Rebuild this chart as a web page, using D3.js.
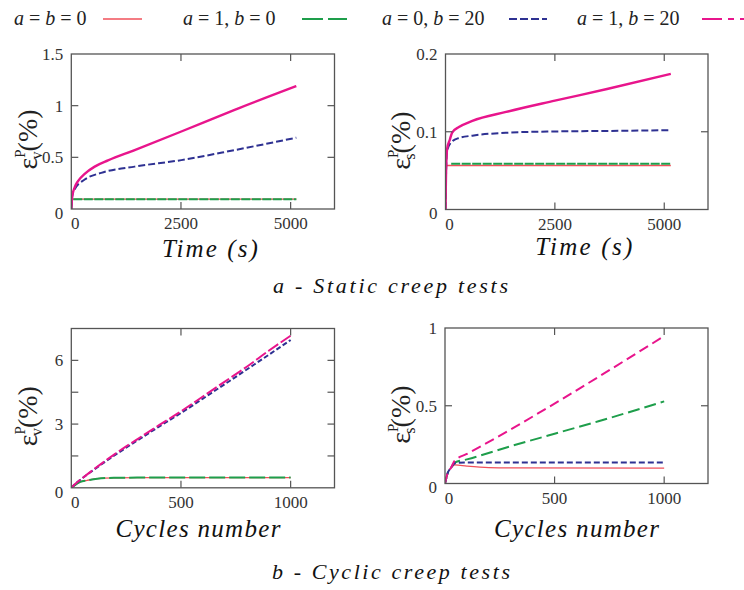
<!DOCTYPE html>
<html>
<head>
<meta charset="utf-8">
<script src="https://cdn.jsdelivr.net/npm/d3@7"></script>
<style>
    body { margin: 0; background: #fff; }
    svg { display: block; }
</style>
</head>
<body>
<svg id="chart"></svg>
<script>
// series names / colours
var seriesNames = [["a", " = ", "b", " = 0"], ["a", " = 1, ", "b", " = 0"], ["a", " = 0, ", "b", " = 20"], ["a", " = 1, ", "b", " = 20"]];
var seriesColors = ["#f0505a", "#1e9e4b", "#2e3192", "#e8158c"];

// a - static creep, volumetric strain (%) vs time (s)
var sv_red_t = [0, 15, 40, 5130];
var sv_red_v = [0, 0.08, 0.095, 0.095];
var sv_green_t = [0, 15, 40, 5130];
var sv_green_v = [0, 0.08, 0.095, 0.095];
var sv_blue_t = [0, 20, 77, 305, 684, 1445, 2508, 3723, 5130];
var sv_blue_v = [0, 0.12, 0.19, 0.285, 0.35, 0.41, 0.473, 0.57, 0.69];
var sv_mag_t = [0, 20, 77, 153, 305, 533, 837, 1445, 2508, 3723, 5130];
var sv_mag_v = [0, 0.12, 0.21, 0.27, 0.34, 0.41, 0.47, 0.57, 0.75, 0.96, 1.19];

// a - static creep, deviatoric strain (%) vs time (s)
var ss_red_t = [0, 10, 25, 5150];
var ss_red_v = [0, 0.04, 0.0566, 0.0566];
var ss_green_t = [130, 5150];
var ss_green_v = [0.0587, 0.0587];
var ss_blue_t = [0, 10, 37, 152, 307, 614, 1385, 2500, 3692, 5150];
var ss_blue_v = [0, 0.04, 0.076, 0.0875, 0.092, 0.095, 0.0987, 0.1004, 0.101, 0.102];
var ss_mag_t = [0, 10, 37, 100, 152, 307, 614, 1385, 2500, 3692, 5150];
var ss_mag_v = [0, 0.04, 0.078, 0.09, 0.099, 0.106, 0.114, 0.1255, 0.14, 0.155, 0.1745];

// b - cyclic creep, volumetric strain (%) vs cycles
var cv_red_n = [0, 20, 41, 72, 118, 194, 300, 1000];
var cv_red_v = [0, 0.15, 0.28, 0.35, 0.43, 0.47, 0.48, 0.48];
var cv_green_n = [0, 20, 41, 72, 118, 194, 300, 1000];
var cv_green_v = [0, 0.15, 0.28, 0.35, 0.43, 0.47, 0.48, 0.48];
var cv_blue_n = [0, 20, 50, 100, 200, 300, 400, 500, 600, 700, 800, 900, 1000];
var cv_blue_v = [0, 0.2, 0.45, 0.83, 1.55, 2.22, 2.88, 3.52, 4.2, 4.88, 5.57, 6.26, 6.96];
var cv_mag_n = [0, 20, 50, 100, 200, 300, 400, 500, 600, 700, 800, 900, 1000];
var cv_mag_v = [0, 0.2, 0.45, 0.85, 1.6, 2.28, 2.95, 3.6, 4.3, 5.0, 5.7, 6.45, 7.16];

// b - cyclic creep, deviatoric strain (%) vs cycles
var cs_red_n = [0, 13, 27, 45, 100, 200, 300, 1000];
var cs_red_v = [0, 0.07, 0.1, 0.12, 0.112, 0.102, 0.1, 0.099];
var cs_green_n = [0, 13, 27, 45, 100, 300, 500, 700, 1000];
var cs_green_v = [0, 0.07, 0.1, 0.135, 0.155, 0.24, 0.32, 0.4, 0.528];
var cs_blue_n = [0, 13, 27, 45, 100, 1000];
var cs_blue_v = [0, 0.07, 0.1, 0.13, 0.135, 0.135];
var cs_mag_n = [0, 13, 27, 45, 100, 1000];
var cs_mag_v = [0, 0.07, 0.1, 0.148, 0.19, 0.948];

// ticks
var staticXTicks = [0, 2500, 5000];
var cyclicXTicks = [0, 500, 1000];
var svYTicks = [0, 0.5, 1, 1.5];
var ssYTicks = [0, 0.1, 0.2];
var cvYTicks = [0, 1.5, 3, 4.5, 6];
var cvYLabels = [0, 3, 6];
var csYTicks = [0, 0.5, 1];

var serif = "'Liberation Serif', 'DejaVu Serif', 'Times New Roman', serif";

function zip(xs, ys) {
    return xs.map(function (x, i) { return [x, ys[i]]; });
}

var panels = [
    {
        left: 71.3, right: 334.5, top: 54, bottom: 209,
        xDomain: [0, 6000], yDomain: [0, 1.5],
        xTicks: staticXTicks, yTicks: svYTicks, yLabels: svYTicks,
        sub: "v", title: "Time (s)", titleDx: 7, titleY: 257, titleLen: 96, labelX: 37,
        series: [zip(sv_red_t, sv_red_v), zip(sv_green_t, sv_green_v), zip(sv_blue_t, sv_blue_v), zip(sv_mag_t, sv_mag_v)],
        dashes: [null, "9,1.5", "7,3", null]
    },
    {
        left: 445.5, right: 708, top: 54, bottom: 209.5,
        xDomain: [0, 6000], yDomain: [0, 0.2],
        xTicks: staticXTicks, yTicks: ssYTicks, yLabels: ssYTicks,
        sub: "s", title: "Time (s)", titleDx: 7, titleY: 255, titleLen: 97, labelX: 410,
        series: [zip(ss_red_t, ss_red_v), zip(ss_green_t, ss_green_v), zip(ss_blue_t, ss_blue_v), zip(ss_mag_t, ss_mag_v)],
        dashes: [null, "9,1.5", "7,3", null]
    },
    {
        left: 71.3, right: 334.5, top: 328.5, bottom: 487.8,
        xDomain: [0, 1200], yDomain: [0, 7.5],
        xTicks: cyclicXTicks, yTicks: cvYTicks, yLabels: cvYLabels,
        sub: "v", title: "Cycles number", titleDx: -5, titleY: 537, titleLen: 165, labelX: 37,
        series: [zip(cv_red_n, cv_red_v), zip(cv_green_n, cv_green_v), zip(cv_blue_n, cv_blue_v), zip(cv_mag_n, cv_mag_v)],
        dashes: [null, "16,4", "5,2.5", "12,3"]
    },
    {
        left: 445, right: 708, top: 328, bottom: 483.5,
        xDomain: [0, 1200], yDomain: [0, 1],
        xTicks: cyclicXTicks, yTicks: csYTicks, yLabels: csYTicks,
        sub: "s", title: "Cycles number", titleDx: 0, titleY: 537, titleLen: 165, labelX: 410,
        series: [zip(cs_red_n, cs_red_v), zip(cs_green_n, cs_green_v), zip(cs_blue_n, cs_blue_v), zip(cs_mag_n, cs_mag_v)],
        dashes: [null, "12,5", "6,3", "10,5"]
    }
];

var width = 744;
var height = 590;

var svg = d3.select("#chart")
    .attr("width", width)
    .attr("height", height)
    .style("font-family", serif);

// legend
var legendText = [14, 183, 382, 577];
var legendLine = [[103, 142], [302, 347], [509, 547], [702, 744]];
var legendDash = [null, "21,5", "8,3", "20,6,6,6"];

seriesNames.forEach(function (parts, i) {
    var t = svg.append("text")
        .attr("x", legendText[i])
        .attr("y", 25)
        .style("font-family", serif)
        .attr("font-size", 20)
        .attr("fill", "#222");
    parts.forEach(function (p, k) {
        t.append("tspan")
            .attr("font-style", k % 2 === 0 ? "italic" : "normal")
            .style("white-space", "pre")
            .text(p);
    });
    svg.append("line")
        .attr("x1", legendLine[i][0])
        .attr("x2", legendLine[i][1])
        .attr("y1", 19)
        .attr("y2", 19)
        .attr("stroke", seriesColors[i])
        .attr("stroke-width", i === 0 ? 1.5 : 2)
        .attr("stroke-dasharray", legendDash[i]);
});

panels.forEach(function (p) {
    var x = d3.scaleLinear().domain(p.xDomain).range([p.left, p.right]);
    var y = d3.scaleLinear().domain(p.yDomain).range([p.bottom, p.top]);
    var g = svg.append("g");

    var clipId = "clip" + Math.round(p.left) + Math.round(p.top);
    g.append("clipPath").attr("id", clipId)
        .append("rect")
        .attr("x", p.left).attr("y", p.top - 2)
        .attr("width", p.right - p.left).attr("height", p.bottom - p.top + 2);

    var line = d3.line()
        .x(function (d) { return x(d[0]); })
        .y(function (d) { return y(d[1]); })
        .curve(d3.curveMonotoneX);

    p.series.forEach(function (s, i) {
        g.append("path")
            .datum(s)
            .attr("clip-path", "url(#" + clipId + ")")
            .attr("d", line)
            .attr("fill", "none")
            .attr("stroke", seriesColors[i])
            .attr("stroke-width", i === 0 ? 1.3 : (i === 3 && !p.dashes[i] ? 2.4 : 2))
            .attr("stroke-dasharray", p.dashes[i]);
    });

    // inward ticks on all four sides
    var xt = p.xTicks.filter(function (v) { return v > p.xDomain[0]; });
    var yt = p.yTicks.filter(function (v) { return v > p.yDomain[0] && v < p.yDomain[1]; });
    var tickColor = "#555";

    xt.forEach(function (v) {
        g.append("line").attr("x1", x(v)).attr("x2", x(v))
            .attr("y1", p.bottom).attr("y2", p.bottom - 7)
            .attr("stroke", tickColor).attr("stroke-width", 1.2);
        g.append("line").attr("x1", x(v)).attr("x2", x(v))
            .attr("y1", p.top).attr("y2", p.top + 7)
            .attr("stroke", tickColor).attr("stroke-width", 1.2);
    });
    yt.forEach(function (v) {
        g.append("line").attr("x1", p.left).attr("x2", p.left + 7)
            .attr("y1", y(v)).attr("y2", y(v))
            .attr("stroke", tickColor).attr("stroke-width", 1.2);
        g.append("line").attr("x1", p.right).attr("x2", p.right - 7)
            .attr("y1", y(v)).attr("y2", y(v))
            .attr("stroke", tickColor).attr("stroke-width", 1.2);
    });

    g.append("rect")
        .attr("x", p.left).attr("y", p.top)
        .attr("width", p.right - p.left).attr("height", p.bottom - p.top)
        .attr("fill", "none")
        .attr("stroke", tickColor)
        .attr("stroke-width", 1.3);

    // tick labels
    p.xTicks.forEach(function (v) {
        g.append("text")
            .attr("x", x(v) + (v === 0 ? 4 : 0))
            .attr("y", p.bottom + 20)
            .attr("text-anchor", "middle")
            .style("font-family", serif)
            .attr("font-size", 17)
            .attr("fill", "#333")
            .text(v);
    });
    p.yLabels.forEach(function (v) {
        g.append("text")
            .attr("x", p.left - 8)
            .attr("y", y(v) + (v === 0 ? 4 : 0))
            .attr("dy", "0.35em")
            .attr("text-anchor", "end")
            .style("font-family", serif)
            .attr("font-size", 17)
            .attr("fill", "#333")
            .text(v);
    });

    // axis title
    g.append("text")
        .attr("x", (p.left + p.right) / 2 + p.titleDx)
        .attr("y", p.titleY)
        .attr("text-anchor", "middle")
        .style("font-family", serif)
        .attr("font-size", 25)
        .attr("font-style", "italic")
        .attr("fill", "#111")
        .attr("textLength", p.titleLen)
        .text(p.title);

    // y label: eps^p_sub (%)
    var cy = (p.top + p.bottom) / 2;
    var yl = g.append("text")
        .attr("transform", "translate(" + p.labelX + "," + (cy + 38) + ") rotate(-90)")
        .style("font-family", serif)
        .attr("font-size", 28)
        .attr("fill", "#222");
    yl.append("tspan").text("ε");
    yl.append("tspan").attr("font-size", 15).attr("dy", -12).text("P");
    yl.append("tspan").attr("font-size", 16).attr("dx", -10).attr("dy", 17).text(p.sub);
    yl.append("tspan").attr("dy", -5).text("(%)");
});

// captions
svg.append("text")
    .attr("x", 273).attr("y", 293)
    .style("font-family", serif)
    .attr("font-size", 22).attr("font-style", "italic").attr("fill", "#111")
    .attr("textLength", 235)
    .style("white-space", "pre")
    .text("a - Static creep tests");
svg.append("text")
    .attr("x", 272).attr("y", 579)
    .style("font-family", serif)
    .attr("font-size", 22).attr("font-style", "italic").attr("fill", "#111")
    .attr("textLength", 238)
    .style("white-space", "pre")
    .text("b - Cyclic creep tests");
</script>
</body>
</html>
